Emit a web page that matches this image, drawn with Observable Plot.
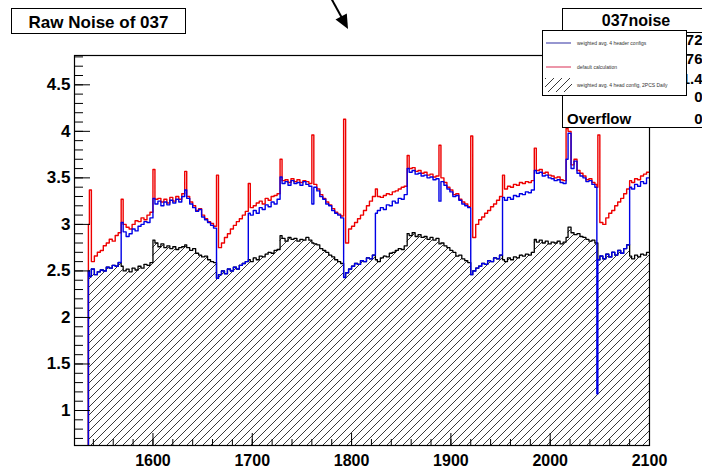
<!DOCTYPE html>
<html><head><meta charset="utf-8">
<script src="https://cdn.jsdelivr.net/npm/d3@7"></script>
<script src="https://cdn.jsdelivr.net/npm/@observablehq/plot@0.6"></script>
<style>
html,body{margin:0;padding:0;background:#fff;overflow:hidden;}
#wrap{position:relative;width:702px;height:468px;}
#wrap svg{position:absolute;left:0;top:0;}
</style></head><body><div id="wrap"></div>
<script>
// ---------- data ----------
const titleText = "Raw Noise of 037";
const statsTitle = "037noise";
// only the last row label is visible; the others are hidden behind the legend
const statsVisibleLabels = ["", "", "", "", "Overflow"];
const statsValues = ["572", "1776", "161.4", "0", "0"];
const legendLabels = ["weighted avg. 4 header configs", "default calculation", "weighted avg. 4 head config, 2PCS Daily"];

const xDomain = [1521, 2100];
const yDomain = [0.624, 4.815];
const xMajor = [1600, 1700, 1800, 1900, 2000, 2100];
const xMinor = d3.range(1540, 2100, 20);
const yMajor = [1, 1.5, 2, 2.5, 3, 3.5, 4, 4.5];
const yMinor = d3.range(7, 49).map(d => d / 10);

const channels = [1534, 1535,
  1536,1538,1541,1544,1547,1550,1553,1556,1559,1562,1565,
  1568,1570,1573,1576,1579,1582,1585,1588,1591,1594,1597,
  1600,1602,1605,1608,1611,1614,1617,1620,1623,1626,1629,
  1632,1634,1637,1640,1643,1646,1649,1652,1655,1658,1661,
  1664,1666,1669,1672,1675,1678,1681,1684,1687,1690,1693,
  1696,1698,1701,1704,1707,1710,1713,1716,1719,1722,1725,
  1728,1730,1733,1736,1739,1742,1745,1748,1751,1754,1757,
  1760,1762,1765,1768,1771,1774,1777,1780,1783,1786,1789,
  1792,1794,1797,1800,1803,1806,1809,1812,1815,1818,1821,
  1824,1826,1829,1832,1835,1838,1841,1844,1847,1850,1853,
  1856,1858,1861,1864,1867,1870,1873,1876,1879,1882,1885,
  1888,1890,1893,1896,1899,1902,1905,1908,1911,1914,1917,
  1920,1922,1925,1928,1931,1934,1937,1940,1943,1946,1949,
  1952,1954,1957,1960,1963,1966,1969,1972,1975,1978,1981,
  1984,1986,1989,1992,1995,1998,2001,2004,2007,2010,2013,
  2016,2018,2021,2024,2027,2030,2033,2036,2039,2042,2045,2047,
  2048,2050,2053,2056,2059,2062,2065,2068,2071,2074,2077,
  2080,2082,2085,2088,2091,2094,2097,2100];

const blueNoise = [0, 2.50,
  2.44,2.52,2.46,2.49,2.51,2.50,2.54,2.53,2.56,2.55,2.59,
  3.02,2.92,2.87,2.90,2.95,2.93,2.98,3.00,3.03,3.02,3.07,
  3.28,3.22,3.25,3.20,3.24,3.21,3.26,3.23,3.27,3.24,3.30,
  3.37,3.28,3.22,3.18,3.14,3.16,3.08,3.05,3.02,2.99,2.96,
  2.42,2.46,2.50,2.47,2.52,2.50,2.54,2.52,2.56,2.58,2.60,
  3.12,3.10,3.15,3.12,3.18,3.16,3.21,3.19,3.24,3.22,3.27,
  3.51,3.44,3.46,3.42,3.47,3.44,3.45,3.42,3.46,3.43,3.41,
  3.22,3.40,3.36,3.30,3.27,3.22,3.20,3.15,3.12,3.10,3.07,
  2.43,2.48,2.52,2.55,2.58,2.57,2.61,2.60,2.64,2.63,2.67,
  3.12,3.15,3.18,3.16,3.21,3.20,3.25,3.23,3.28,3.27,3.32,
  3.60,3.56,3.58,3.54,3.55,3.52,3.53,3.50,3.51,3.48,3.49,
  3.25,3.46,3.42,3.38,3.35,3.30,3.31,3.26,3.22,3.20,3.18,
  2.46,2.50,2.53,2.55,2.58,2.57,2.61,2.60,2.64,2.63,2.67,
  3.29,3.26,3.29,3.27,3.31,3.30,3.33,3.32,3.35,3.34,3.37,
  3.58,3.55,3.56,3.52,3.53,3.50,3.49,3.47,3.48,3.45,3.44,
  3.70,3.98,3.60,3.68,3.55,3.52,3.50,3.46,3.47,3.43,3.40,1.18,
  2.62,2.66,2.63,2.68,2.65,2.70,2.67,2.72,2.69,2.74,2.78,
  3.40,3.38,3.43,3.41,3.46,3.44,3.50,3.50];

const redNoise = [0, 3.00,
  3.37,2.60,2.66,2.70,2.72,2.77,2.80,2.84,2.82,2.88,2.91,
  3.27,3.00,2.97,2.95,3.00,3.04,3.03,3.07,3.05,3.10,3.13,
  3.59,3.27,3.28,3.24,3.27,3.23,3.29,3.25,3.30,3.27,3.33,
  3.57,3.30,3.24,3.20,3.15,3.17,3.10,3.06,3.03,3.01,2.98,
  3.53,2.75,2.80,2.86,2.90,2.95,2.99,3.03,3.06,3.10,3.14,
  3.44,3.18,3.20,3.23,3.25,3.22,3.28,3.26,3.30,3.31,3.33,
  3.70,3.47,3.48,3.45,3.49,3.46,3.48,3.45,3.47,3.46,3.44,
  3.96,3.43,3.38,3.32,3.28,3.24,3.21,3.17,3.13,3.11,3.09,
  4.13,2.80,2.95,2.98,3.02,3.06,3.10,3.15,3.20,3.25,3.30,
  3.38,3.30,3.29,3.31,3.33,3.32,3.35,3.36,3.38,3.40,3.41,
  3.74,3.60,3.61,3.57,3.58,3.55,3.56,3.53,3.54,3.51,3.52,
  3.85,3.50,3.45,3.40,3.37,3.32,3.33,3.27,3.24,3.22,3.19,
  3.95,2.86,3.00,3.05,3.08,3.12,3.15,3.19,3.22,3.26,3.30,
  3.53,3.38,3.41,3.40,3.43,3.42,3.45,3.44,3.46,3.45,3.47,
  3.82,3.58,3.59,3.55,3.56,3.53,3.52,3.50,3.51,3.48,3.47,
  4.03,4.00,3.64,3.70,3.58,3.55,3.52,3.48,3.49,3.45,3.43,3.40,
  3.96,3.02,3.00,3.07,3.12,3.15,3.20,3.24,3.28,3.33,3.38,
  3.47,3.45,3.49,3.48,3.52,3.54,3.56,3.56];

const blackNoise = [0, 2.50,
  2.44,2.52,2.46,2.49,2.51,2.50,2.54,2.53,2.56,2.55,2.59,
  2.55,2.50,2.52,2.49,2.53,2.51,2.55,2.53,2.57,2.56,2.59,
  2.83,2.80,2.76,2.79,2.75,2.77,2.74,2.76,2.73,2.75,2.76,
  2.78,2.75,2.72,2.74,2.69,2.67,2.65,2.66,2.62,2.60,2.59,
  2.42,2.46,2.50,2.47,2.52,2.50,2.54,2.52,2.56,2.58,2.60,
  2.62,2.60,2.64,2.62,2.66,2.65,2.68,2.70,2.69,2.72,2.73,
  2.88,2.85,2.82,2.86,2.84,2.85,2.82,2.84,2.83,2.86,2.83,
  2.80,2.79,2.78,2.74,2.72,2.70,2.67,2.65,2.62,2.60,2.58,
  2.43,2.48,2.52,2.55,2.58,2.57,2.61,2.60,2.64,2.63,2.67,
  2.62,2.60,2.64,2.66,2.65,2.69,2.70,2.72,2.74,2.73,2.77,
  2.90,2.88,2.91,2.87,2.89,2.86,2.87,2.84,2.86,2.83,2.85,
  2.79,2.80,2.77,2.75,2.72,2.70,2.66,2.67,2.63,2.61,2.59,
  2.46,2.50,2.53,2.55,2.58,2.57,2.61,2.60,2.64,2.63,2.67,
  2.62,2.60,2.64,2.62,2.65,2.64,2.67,2.66,2.68,2.67,2.70,
  2.84,2.81,2.83,2.80,2.82,2.79,2.81,2.80,2.82,2.79,2.81,
  2.86,2.97,2.91,2.89,2.90,2.87,2.86,2.84,2.82,2.83,2.80,2.80,
  2.62,2.66,2.63,2.68,2.65,2.70,2.67,2.72,2.69,2.74,2.78,
  2.66,2.63,2.67,2.65,2.68,2.67,2.70,2.70];

// ---------- build ----------
const rows = channels.map((ch, i) => ({ch, blue: blueNoise[i], red: redNoise[i], black: blackNoise[i]}));
const fontFam = '"Liberation Sans", Arial, Helvetica, sans-serif';
const blueC = "#0000e6", redC = "#ee0000";

const plot = Plot.plot({
  width: 702, height: 468,
  marginLeft: 74, marginRight: 53, marginTop: 55, marginBottom: 23,
  style: {fontFamily: fontFam, fontWeight: "bold", fontSize: "17px", color: "#000", background: "transparent"},
  x: {domain: xDomain},
  y: {domain: yDomain},
  marks: [
    Plot.areaY(rows, {x: "ch", y1: () => yDomain[0], y2: "black", curve: "step-after", fill: "url(#hatch)", clip: true}),
    Plot.line(rows, {x: "ch", y: "black", curve: "step-after", stroke: "#000", strokeWidth: 1.3, clip: true}),
    Plot.line(rows, {x: "ch", y: "red", curve: "step-after", stroke: redC, strokeWidth: 1.4, clip: true}),
    Plot.line(rows, {x: "ch", y: "blue", curve: "step-after", stroke: blueC, strokeWidth: 1.4, clip: true}),
    Plot.axisY({ticks: yMinor, tickSize: -9, fill: "none", label: null, stroke: "#000"}),
    Plot.axisY({ticks: yMajor, tickSize: -16, tickPadding: 20, tickFormat: d => String(d), label: null, stroke: "#000", fill: "#000", fontSize: 17}),
    Plot.axisX({ticks: xMinor, tickSize: -6, fill: "none", label: null, stroke: "#000"}),
    Plot.axisX({ticks: xMajor, tickSize: -12, tickPadding: 21, tickFormat: d => String(d), label: null, stroke: "#000", fill: "#000", fontSize: 16}),
    Plot.frame({stroke: "#000", strokeWidth: 1.2})
  ]
});

// hatch pattern definition
const defs = d3.select(plot).insert("defs", ":first-child");
const pat = defs.append("pattern").attr("id", "hatch").attr("patternUnits", "userSpaceOnUse")
  .attr("width", 8).attr("height", 8);
pat.append("path").attr("d", "M-2,2 L2,-2 M0,8 L8,0 M6,10 L10,6")
  .attr("stroke", "#222").attr("stroke-width", 0.9).attr("fill", "none");

const wrap = document.getElementById("wrap");
wrap.appendChild(plot);

// ---------- overlay: title, stats box, legend, arrow ----------
const ov = d3.create("svg").attr("width", 702).attr("height", 468)
  .style("font-family", fontFam).style("font-weight", "bold");

ov.append("line").attr("x1", 331).attr("y1", -2).attr("x2", 342).attr("y2", 18)
  .attr("stroke", "#000").attr("stroke-width", 2);
ov.append("path").attr("d", "M348,29 L335.5,19.5 L346.8,13.5 Z").attr("fill", "#000");

ov.append("rect").attr("x", 11.5).attr("y", 8.5).attr("width", 174).attr("height", 25)
  .attr("fill", "#fff").attr("stroke", "#000");
ov.append("text").attr("x", 98.5).attr("y", 27.5).attr("text-anchor", "middle")
  .attr("font-size", 17).text(titleText);

ov.append("rect").attr("x", 562.5).attr("y", 8.5).attr("width", 160).attr("height", 119)
  .attr("fill", "#fff").attr("stroke", "#000");
ov.append("line").attr("x1", 562.5).attr("x2", 702).attr("y1", 32.5).attr("y2", 32.5).attr("stroke", "#000");
ov.append("text").attr("x", 636).attr("y", 26).attr("text-anchor", "middle")
  .attr("font-size", 16).text(statsTitle);
const rowY = [45, 64, 84, 102, 124];
statsValues.forEach((s, i) => {
  if (statsVisibleLabels[i]) ov.append("text").attr("x", 567).attr("y", rowY[i]).attr("font-size", 15).text(statsVisibleLabels[i]);
  ov.append("text").attr("x", 702.5).attr("y", rowY[i]).attr("text-anchor", "end").attr("font-size", 15).text(s);
});

const lg = ov.append("g");
lg.append("rect").attr("x", 542.5).attr("y", 30.5).attr("width", 144).attr("height", 65)
  .attr("fill", "#fff").attr("stroke", "#000");
lg.append("line").attr("x1", 546).attr("x2", 571).attr("y1", 43).attr("y2", 43).attr("stroke", "#5050b0").attr("stroke-width", 1.2);
lg.append("line").attr("x1", 546).attr("x2", 571).attr("y1", 67).attr("y2", 67).attr("stroke", "#e05070").attr("stroke-width", 1.2);
lg.append("rect").attr("x", 545).attr("y", 78).attr("width", 27).attr("height", 14).attr("fill", "url(#hatch)");
const lgY = [45, 69, 87];
legendLabels.forEach((s, i) => {
  lg.append("text").attr("x", 577).attr("y", lgY[i]).attr("font-size", 5).attr("font-weight", "normal")
    .attr("fill", "#333").text(s);
});

wrap.appendChild(ov.node());
</script></body></html>
